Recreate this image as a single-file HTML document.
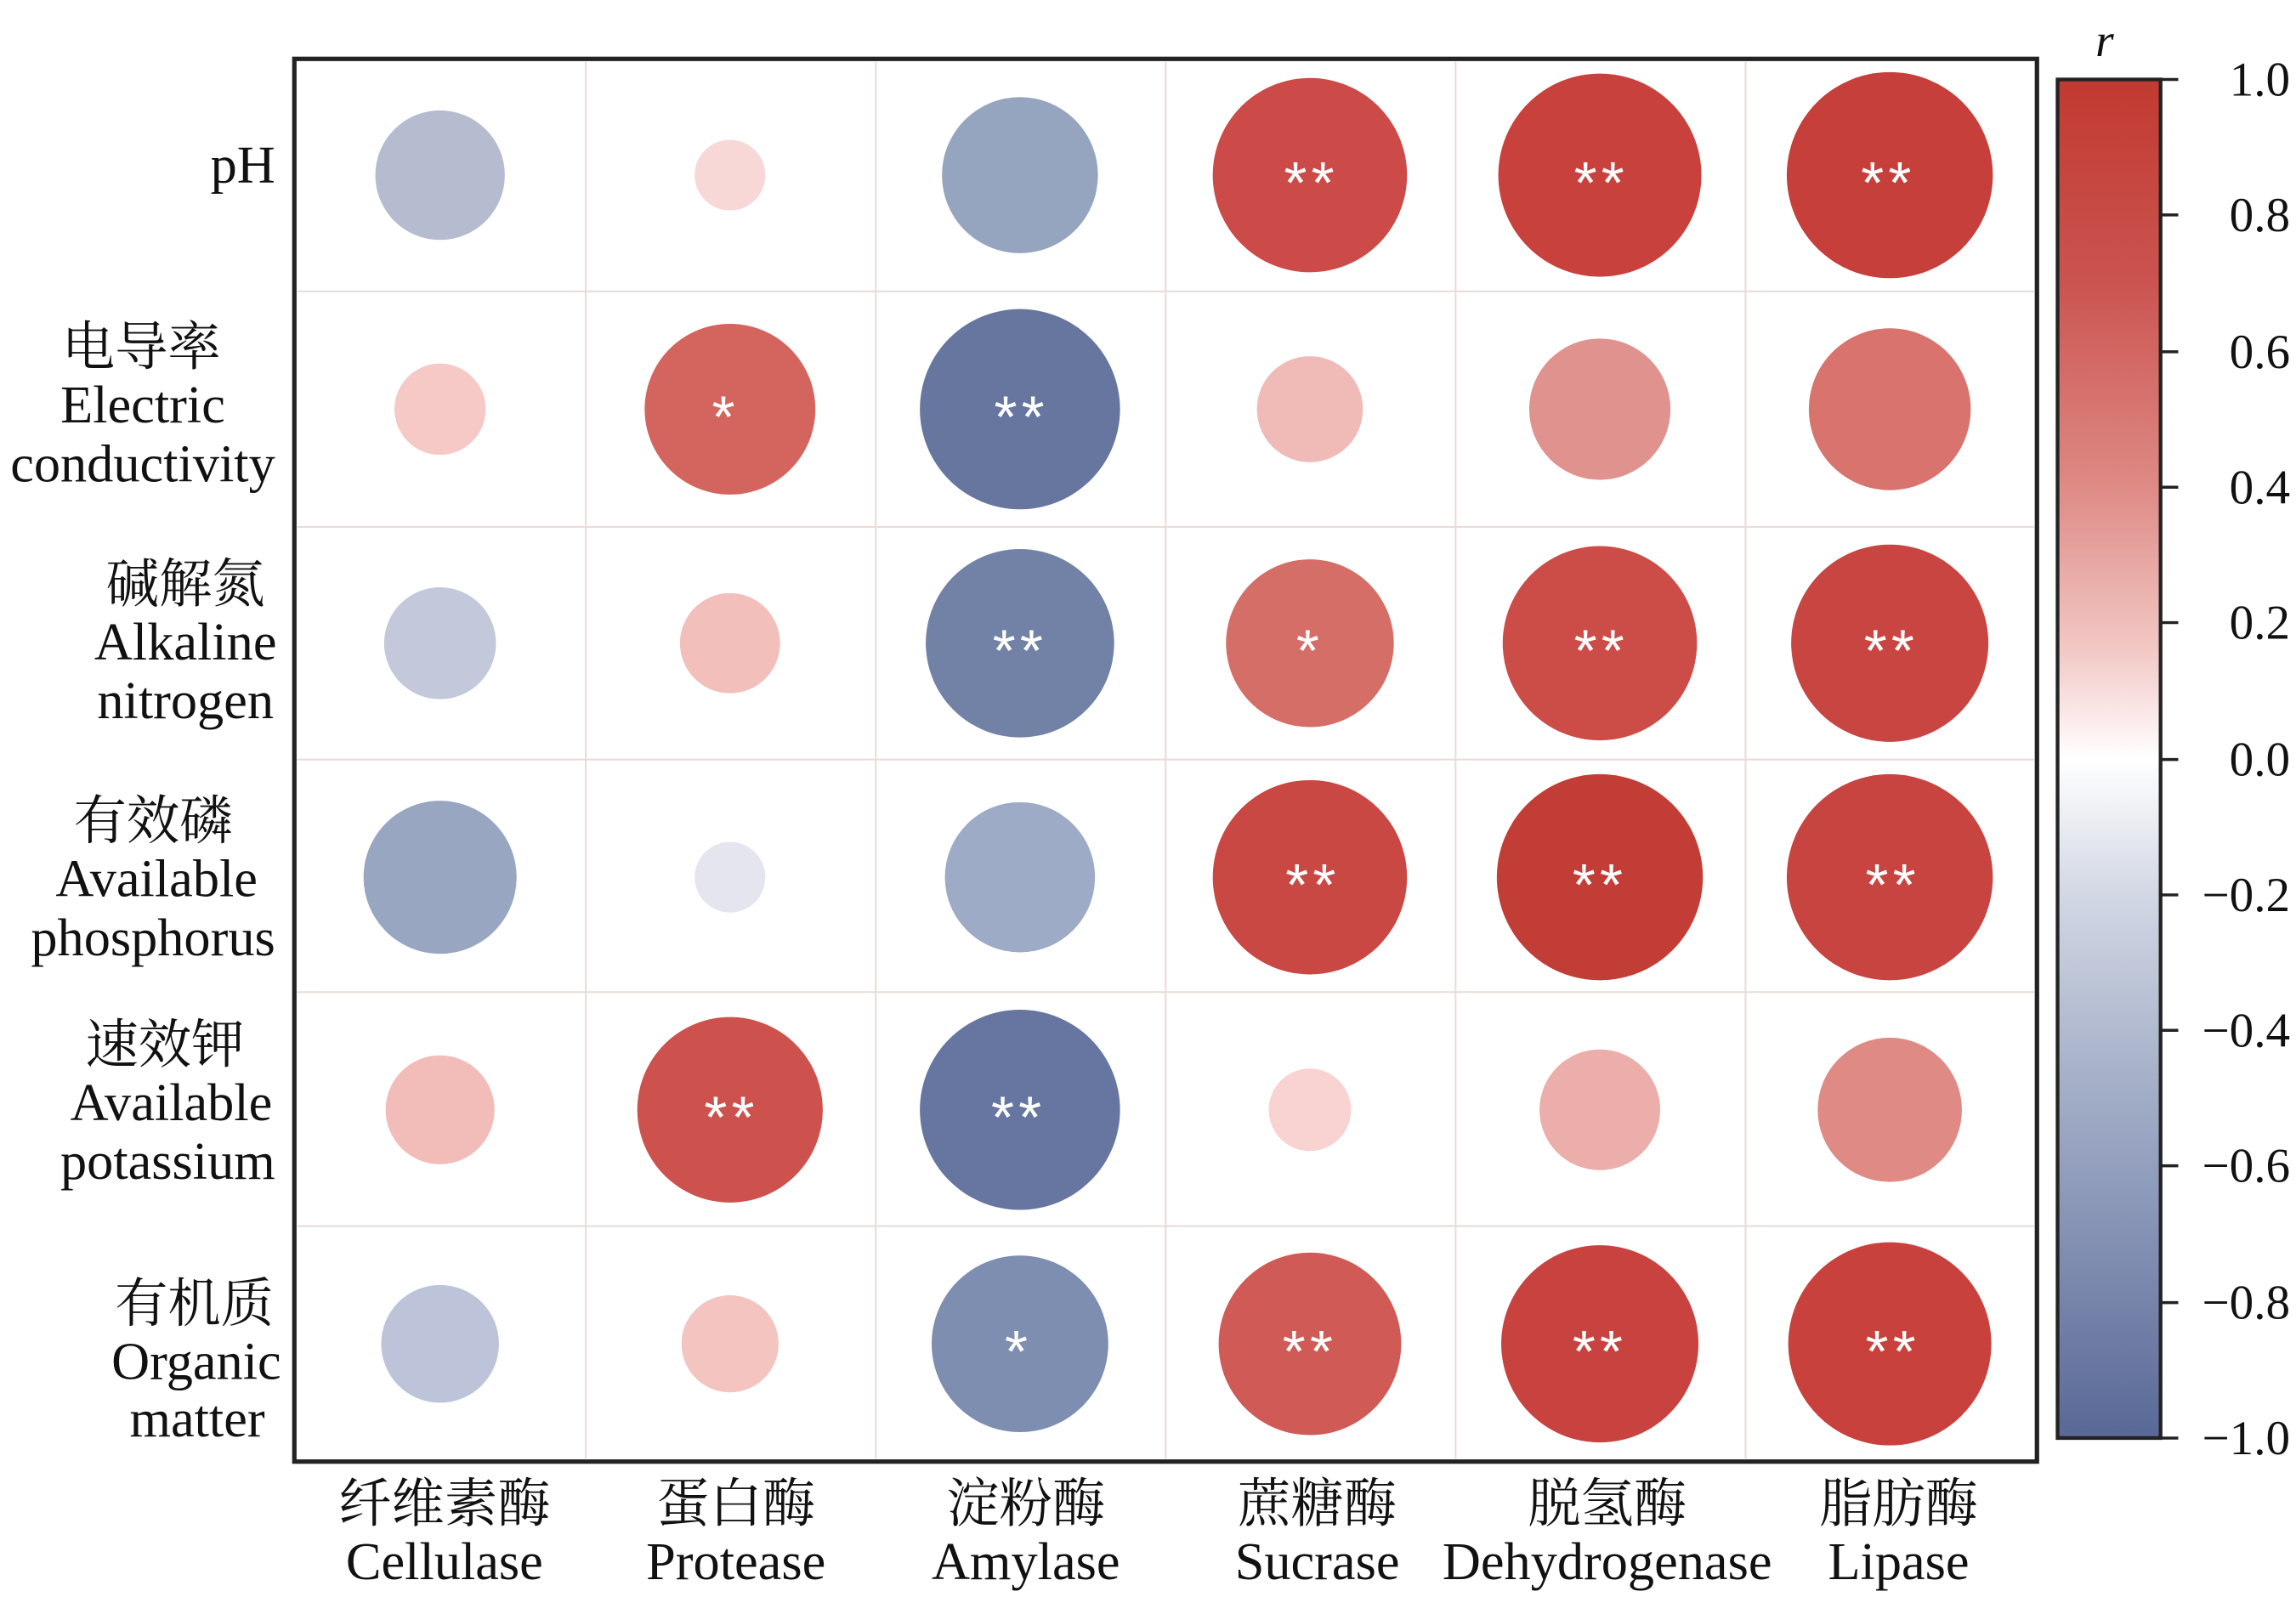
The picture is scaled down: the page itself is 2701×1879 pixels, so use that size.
<!DOCTYPE html>
<html><head><meta charset="utf-8"><style>html,body{margin:0;padding:0;background:#fff}svg{display:block}</style></head>
<body>
<svg width="2701" height="1879" viewBox="0 0 1560 1085" preserveAspectRatio="none" xmlns="http://www.w3.org/2000/svg" font-family="'Liberation Serif','Noto Serif CJK SC',serif">
<defs>
<linearGradient id="cb" x1="0" y1="0" x2="0" y2="1">
<stop offset="0" stop-color="#c23a31"/>
<stop offset="0.15" stop-color="#cb5450"/>
<stop offset="0.3" stop-color="#de8a85"/>
<stop offset="0.42" stop-color="#f2c8c5"/>
<stop offset="0.5" stop-color="#ffffff"/>
<stop offset="0.6" stop-color="#d2d7e4"/>
<stop offset="0.72" stop-color="#aab4cb"/>
<stop offset="0.87" stop-color="#7e8cb0"/>
<stop offset="1" stop-color="#5a6897"/>
</linearGradient>
</defs>
<g stroke="#e8dcd8" stroke-width="1.2">
<line x1="398" y1="42" x2="398" y2="991"/><line x1="595" y1="42" x2="595" y2="991"/><line x1="792" y1="42" x2="792" y2="991"/><line x1="989" y1="42" x2="989" y2="991"/><line x1="1186" y1="42" x2="1186" y2="991"/>
<line x1="202" y1="198" x2="1382" y2="198"/><line x1="202" y1="358" x2="1382" y2="358"/><line x1="202" y1="516" x2="1382" y2="516"/><line x1="202" y1="674" x2="1382" y2="674"/><line x1="202" y1="833" x2="1382" y2="833"/>
</g>
<rect x="200" y="40" width="1184" height="953" fill="none" stroke="#222" stroke-width="3"/>
<g>
<circle cx="299" cy="119" r="44" fill="#b5bcd0"/><circle cx="496" cy="119" r="24" fill="#f8d8d6"/><circle cx="693" cy="119" r="53" fill="#95a4bf"/><circle cx="890" cy="119" r="66" fill="#cc4a47"/><circle cx="1087" cy="119" r="69" fill="#c8413d"/><circle cx="1284" cy="119" r="70" fill="#c63f3b"/>
<circle cx="299" cy="278" r="31" fill="#f6c8c6"/><circle cx="496" cy="278" r="58" fill="#d4645e"/><circle cx="693" cy="278" r="68" fill="#66769f"/><circle cx="890" cy="278" r="36" fill="#f0bab7"/><circle cx="1087" cy="278" r="48" fill="#e0938e"/><circle cx="1284" cy="278" r="55" fill="#d8736d"/>
<circle cx="299" cy="437" r="38" fill="#c3c9db"/><circle cx="496" cy="437" r="34" fill="#f2bfbb"/><circle cx="693" cy="437" r="64" fill="#7282a7"/><circle cx="890" cy="437" r="57" fill="#d66e68"/><circle cx="1087" cy="437" r="66" fill="#cc4c48"/><circle cx="1284" cy="437" r="67" fill="#c94541"/>
<circle cx="299" cy="596" r="52" fill="#98a6c1"/><circle cx="496" cy="596" r="24" fill="#e4e5ef"/><circle cx="693" cy="596" r="51" fill="#9eabc6"/><circle cx="890" cy="596" r="66" fill="#ca4844"/><circle cx="1087" cy="596" r="70" fill="#c23d36"/><circle cx="1284" cy="596" r="70" fill="#c74440"/>
<circle cx="299" cy="754" r="37" fill="#f2bdb9"/><circle cx="496" cy="754" r="63" fill="#cd514c"/><circle cx="693" cy="754" r="68" fill="#6676a0"/><circle cx="890" cy="754" r="28" fill="#f8d3d1"/><circle cx="1087" cy="754" r="41" fill="#ebaeaa"/><circle cx="1284" cy="754" r="49" fill="#df8a84"/>
<circle cx="299" cy="913" r="40" fill="#bdc3d8"/><circle cx="496" cy="913" r="33" fill="#f4c4c1"/><circle cx="693" cy="913" r="60" fill="#7e8eb0"/><circle cx="890" cy="913" r="62" fill="#d05a55"/><circle cx="1087" cy="913" r="67" fill="#c8433f"/><circle cx="1284" cy="913" r="69" fill="#c8413d"/>
</g>
<g fill="#fff" font-size="40" text-anchor="middle" letter-spacing="3" font-family="'Liberation Sans',sans-serif">
<text x="891" y="138">**</text><text x="1088" y="138">**</text><text x="1283" y="138">**</text>
<text x="493" y="297">*</text><text x="694" y="297">**</text>
<text x="693" y="456">**</text><text x="890" y="456">*</text><text x="1088" y="456">**</text><text x="1285" y="456">**</text>
<text x="892" y="615">**</text><text x="1087" y="615">**</text><text x="1286" y="615">**</text>
<text x="497" y="773">**</text><text x="692" y="773">**</text>
<text x="692" y="932">*</text><text x="890" y="932">**</text><text x="1087" y="932">**</text><text x="1286" y="932">**</text>
</g>
<g font-size="36" fill="#111" text-anchor="end">
<text x="187" y="124">pH</text>
<text x="150" y="248">电导率</text><text x="153" y="287">Electric</text><text x="187" y="327">conductivity</text>
<text x="180" y="409">碱解氮</text><text x="188" y="448">Alkaline</text><text x="186" y="488">nitrogen</text>
<text x="158" y="570">有效磷</text><text x="175" y="609">Available</text><text x="187" y="649">phosphorus</text>
<text x="166" y="722">速效钾</text><text x="185" y="761">Available</text><text x="187" y="801">potassium</text>
<text x="186" y="898">有机质</text><text x="191" y="937">Organic</text><text x="180" y="976">matter</text>
</g>
<g font-size="36" fill="#111" text-anchor="middle">
<text x="302" y="1034">纤维素酶</text><text x="302" y="1073">Cellulase</text>
<text x="500" y="1034">蛋白酶</text><text x="500" y="1073">Protease</text>
<text x="697" y="1034">淀粉酶</text><text x="697" y="1073">Amylase</text>
<text x="895" y="1034">蔗糖酶</text><text x="895" y="1073">Sucrase</text>
<text x="1092" y="1034">脱氢酶</text><text x="1092" y="1073">Dehydrogenase</text>
<text x="1290" y="1034">脂肪酶</text><text x="1290" y="1073">Lipase</text>
</g>
<rect x="1398" y="54" width="70" height="923" fill="url(#cb)" stroke="#222" stroke-width="2.5"/>
<g stroke="#222" stroke-width="2">
<line x1="1468" y1="54" x2="1480" y2="54"/><line x1="1468" y1="146" x2="1480" y2="146"/><line x1="1468" y1="239" x2="1480" y2="239"/><line x1="1468" y1="331" x2="1480" y2="331"/><line x1="1468" y1="423" x2="1480" y2="423"/><line x1="1468" y1="516" x2="1480" y2="516"/><line x1="1468" y1="608" x2="1480" y2="608"/><line x1="1468" y1="700" x2="1480" y2="700"/><line x1="1468" y1="792" x2="1480" y2="792"/><line x1="1468" y1="885" x2="1480" y2="885"/><line x1="1468" y1="977" x2="1480" y2="977"/>
</g>
<g font-size="33" fill="#111" text-anchor="end">
<text x="1556" y="65">1.0</text><text x="1556" y="157">0.8</text><text x="1556" y="250">0.6</text><text x="1556" y="342">0.4</text><text x="1556" y="434">0.2</text><text x="1556" y="527">0.0</text><text x="1556" y="619">−0.2</text><text x="1556" y="711">−0.4</text><text x="1556" y="803">−0.6</text><text x="1556" y="896">−0.8</text><text x="1556" y="988">−1.0</text>
</g>
<text x="1430" y="38" font-size="32" font-style="italic" text-anchor="middle" fill="#111">r</text>
</svg>
</body></html>
